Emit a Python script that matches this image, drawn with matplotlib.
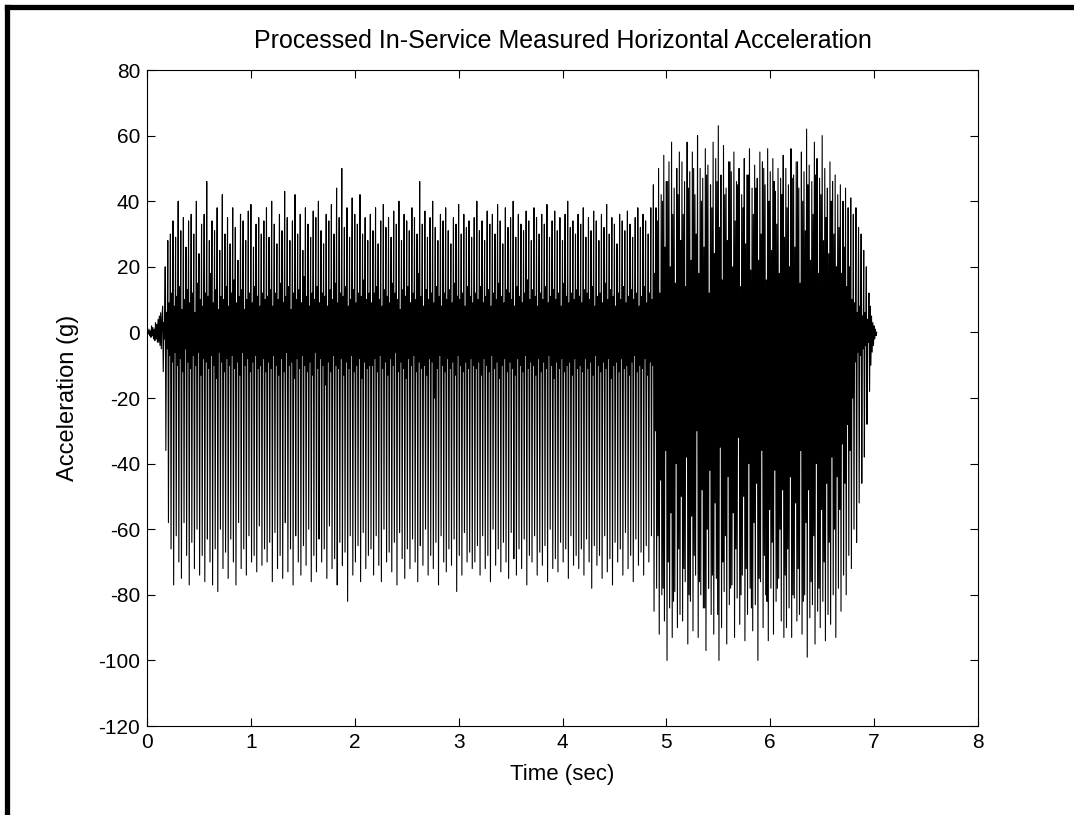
import numpy as np
import matplotlib.pyplot as plt
from matplotlib.lines import Line2D

plt.rcParams['font.family'] = ['Liberation Sans', 'DejaVu Sans']
plt.rcParams['axes.unicode_minus'] = False

## sampled horizontal acceleration (g), 160 samples per second
dt = 0.00625

## quiet start before the vibration picks up (0 - 0.15 s)
lead_in = [0, 0.5, -0.5, 1, -1, 0.5, -1.5, 2, -1, 1.5, -2, 1, -2.5, 3, -2, 2.5, -3, 4, -3, 5, -4, 6, -5, 4]

## each vibration cycle (0.025 s): high peak, low peak, then a second swing (high, low)
peak_hi = [8, 20, 28, 30, 34, 29, 40, 31, 35, 26, 34, 36, 30, 40, 24, 33, 36, 46, 28, 34,
           31, 38, 25, 42, 30, 35, 27, 38, 32, 22, 36, 34, 28, 37, 39, 26, 33, 35, 30, 34,
           38, 29, 40, 33, 27, 36, 31, 43, 35, 28, 34, 42, 30, 36, 25, 38, 33, 29, 37, 35,
           40, 31, 27, 36, 34, 39, 30, 44, 35, 50, 32, 38, 29, 41, 36, 33, 42, 30, 35, 28,
           36, 31, 38, 27, 34, 39, 32, 35, 29, 37, 33, 40, 28, 36, 34, 31, 38, 35, 30, 46,
           33, 37, 29, 35, 40, 32, 28, 36, 34, 38, 31, 27, 35, 33, 39, 30, 36, 32, 34, 29,
           35, 40, 31, 34, 28, 37, 33, 36, 30, 39, 34, 27, 38, 32, 35, 40, 29, 36, 33, 31,
           37, 34, 28, 38, 35, 30, 36, 33, 39, 29, 34, 37, 31, 35, 28, 36, 40, 32, 34, 30,
           36, 33, 38, 29, 35, 31, 37, 34, 28, 36, 32, 39, 30, 35, 33, 27, 36, 34, 31, 37,
           33, 29, 35, 38, 32, 36, 34, 30, 38, 45, 38, 50, 42, 54, 46, 52, 58, 44, 50, 55,
           52, 46, 58, 49, 55, 42, 60, 50, 47, 56, 51, 45, 58, 53, 63, 48, 57, 44, 52, 49,
           55, 46, 50, 42, 53, 48, 56, 44, 51, 47, 55, 52, 45, 56, 49, 53, 43, 50, 47, 54,
           50, 45, 56, 48, 52, 44, 55, 49, 62, 51, 46, 58, 53, 47, 60, 50, 44, 52, 46, 48,
           42, 45, 40, 44, 38, 41, 36, 38, 32, 30, 25, 20]
peak_lo = [-12, -36, -58, -66, -77, -62, -70, -75, -58, -68, -77, -64, -72, -60, -74, -68, -76, -63, -70, -77,
           -66, -79, -60, -72, -67, -75, -63, -70, -77, -58, -72, -66, -74, -62, -70, -68, -73, -59, -71, -66,
           -70, -64, -76, -61, -72, -68, -75, -58, -73, -66, -77, -62, -70, -74, -65, -71, -60, -76, -68, -73,
           -63, -70, -66, -75, -59, -72, -69, -77, -64, -71, -67, -82, -62, -74, -70, -65, -76, -61, -72, -68,
           -66, -74, -62, -71, -76, -60, -70, -67, -73, -64, -77, -61, -69, -75, -66, -72, -63, -70, -76, -65,
           -71, -60, -74, -68, -72, -64, -77, -62, -70, -73, -66, -71, -63, -79, -68, -74, -61, -70, -67, -72,
           -70, -65, -74, -62, -72, -68, -76, -60, -71, -66, -73, -64, -70, -75, -61, -69, -74, -66, -72, -63,
           -77, -68, -70, -62, -74, -67, -71, -65, -76, -60, -72, -69, -73, -64, -70, -66, -75, -62, -71, -68,
           -72, -66, -74, -63, -70, -78, -65, -71, -68, -75, -62, -73, -69, -77, -64, -70, -66, -74, -61, -72,
           -68, -76, -63, -71, -67, -74, -65, -70, -62, -85, -78, -92, -80, -88, -100, -84, -93, -79, -90, -86,
           -88, -76, -95, -82, -91, -74, -93, -80, -84, -97, -78, -86, -92, -75, -100, -90, -79, -95, -83, -77,
           -93, -81, -89, -74, -94, -86, -78, -91, -83, -100, -76, -90, -80, -94, -78, -92, -82, -75, -88, -93,
           -90, -84, -93, -81, -88, -86, -92, -80, -99, -87, -83, -95, -85, -90, -82, -94, -86, -89, -80, -93,
           -78, -85, -74, -80, -68, -72, -60, -64, -52, -46, -38, -28]
band_hi = [3, 6, 9, 12, 8, 11, 14, 7, 10, 13, 9, 12, 6, 15, 10, 8, 12, 11, 18, 9,
           13, 7, 11, 10, 14, 8, 12, 16, 9, 11, 13, 7, 10, 12, 9, 14, 11, 8, 12, 10,
           11, 13, 8, 12, 10, 15, 9, 11, 14, 7, 12, 10, 13, 9, 17, 11, 8, 12, 10, 14,
           9, 12, 11, 8, 13, 10, 15, 9, 12, 11, 14, 8, 10, 13, 9, 12, 11, 16, 10, 12,
           9, 12, 14, 10, 8, 13, 11, 9, 15, 12, 10, 7, 13, 11, 14, 9, 12, 10, 18, 11,
           8, 13, 10, 12, 9, 14, 11, 8, 12, 10, 13, 9, 15, 11, 10, 12, 8, 14, 11, 9,
           12, 10, 14, 9, 11, 13, 8, 12, 10, 15, 11, 9, 13, 12, 10, 8, 14, 11, 9, 12,
           16, 10, 13, 11, 8, 12, 10, 14, 9, 11, 13, 10, 12, 8, 15, 11, 9, 12, 10, 13,
           11, 9, 13, 12, 10, 14, 8, 11, 12, 9, 15, 10, 13, 11, 8, 12, 10, 14, 9, 11,
           13, 10, 12, 8, 11, 14, 9, 12, 10, 18, 34, 12, 40, 26, 46, 20, 36, 15, 42, 28,
           36, 14, 44, 22, 50, 30, 18, 40, 26, 48, 12, 38, 24, 46, 32, 16, 42, 28, 52, 20,
           34, 45, 14, 38, 27, 48, 19, 36, 44, 22, 30, 50, 16, 40, 25, 46, 33, 18, 42, 29,
           38, 20, 47, 26, 52, 15, 40, 31, 45, 22, 36, 48, 18, 42, 28, 35, 24, 40, 30, 20,
           32, 18, 26, 14, 20, 10, 9, 6, 8, 5, 6, 4]
band_lo = [-2, -5, -7, -9, -6, -10, -8, -12, -5, -9, -11, -7, -10, -6, -13, -8, -9, -11, -7, -10,
           -14, -6, -9, -12, -8, -10, -7, -11, -9, -13, -6, -10, -8, -12, -9, -7, -11, -10, -8, -12,
           -9, -11, -7, -10, -13, -8, -12, -6, -10, -9, -14, -8, -11, -7, -10, -12, -9, -13, -6, -11,
           -8, -10, -16, -9, -12, -7, -10, -11, -8, -13, -9, -11, -7, -12, -10, -8, -14, -9, -11, -10,
           -10, -8, -12, -7, -11, -9, -13, -8, -10, -6, -12, -9, -11, -14, -8, -10, -7, -12, -9, -11,
           -10, -13, -8, -9, -20, -11, -7, -10, -12, -8, -11, -9, -13, -7, -10, -12, -9, -11, -8, -10,
           -11, -9, -13, -8, -10, -12, -7, -11, -9, -14, -10, -8, -12, -9, -11, -13, -8, -10, -12, -7,
           -11, -9, -10, -13, -8, -12, -9, -11, -7, -10, -14, -9, -11, -8, -12, -10, -9, -13, -8, -11,
           -10, -12, -8, -11, -9, -13, -7, -10, -12, -9, -11, -8, -14, -10, -9, -12, -8, -11, -10, -13,
           -9, -7, -12, -10, -11, -8, -13, -9, -10, -30, -62, -45, -78, -36, -70, -55, -82, -40, -66, -50,
           -72, -38, -80, -56, -68, -30, -76, -48, -84, -60, -42, -74, -52, -86, -35, -70, -62, -44, -78, -55,
           -66, -32, -80, -50, -72, -40, -84, -58, -46, -75, -36, -68, -82, -54, -64, -42, -78, -60, -48, -74,
           -66, -44, -80, -52, -72, -36, -82, -58, -48, -76, -62, -40, -78, -54, -70, -46, -64, -38, -60, -44,
           -54, -34, -46, -28, -36, -20, -9, -6, -7, -5, -4, -3]

## dying out at the end (after ~6.95 s)
tail = [12, -18, 8, -10, 5, -6, 3, -4, 2, -2, 1, -1, 0]

body = []
for hi, lo, bh, bl in zip(peak_hi, peak_lo, band_hi, band_lo):
    body += [hi, lo, bh, bl]
accel = np.array(lead_in + body + tail, dtype=float)
time = np.arange(len(accel)) * dt

fig = plt.figure(figsize=(10.74, 8.15), dpi=100)
ax = fig.add_axes([0.1369, 0.1092, 0.7737, 0.8049])
ax.plot(time, accel, color='black', linewidth=0.8)
ax.set_xlim(0, 8)
ax.set_ylim(-120, 80)
ax.set_xticks(range(0, 9))
ax.set_yticks(range(-120, 81, 20))
ax.tick_params(direction='in', top=True, right=True, length=6, width=0.8, labelsize=15, pad=5)
for s in ax.spines.values():
    s.set_linewidth(0.8)
ax.set_title('Processed In-Service Measured Horizontal Acceleration', fontsize=18, pad=16)
ax.set_xlabel('Time (sec)', fontsize=16, labelpad=9)
ax.set_ylabel('Acceleration (g)', fontsize=17, labelpad=14)

## thick frame lines on the top and left edge of the picture
fig.add_artist(Line2D([0.0065, 1.0], [0.9915, 0.9915], transform=fig.transFigure, color='black', linewidth=3.8))
fig.add_artist(Line2D([0.0065, 0.0065], [0.0, 0.9915], transform=fig.transFigure, color='black', linewidth=3.8))

plt.savefig('out.png', dpi=100)
